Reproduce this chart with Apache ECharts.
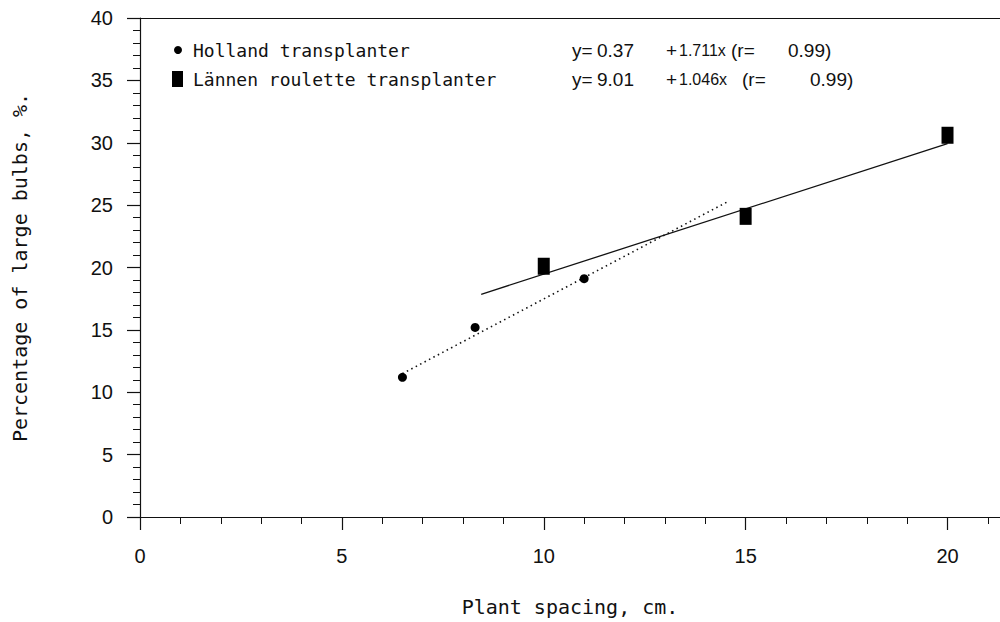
<!DOCTYPE html>
<html><head><meta charset="utf-8">
<script src="https://cdn.jsdelivr.net/npm/echarts@6/dist/echarts.min.js"></script>
<style>html,body{margin:0;padding:0;background:#fff}#c{width:1000px;height:622px}</style>
</head><body><div id="c"></div>
<script>
// ---- data ----
const hollandX = [6.5, 8.3, 11];
const hollandY = [11.2, 15.2, 19.1];
const lannenX = [10, 15, 20];
const lannenY = [20.1, 24.1, 30.6];
const hollandFit = [0.37, 1.711];      // intercept, slope
const hollandFitRange = [6.5, 14.6];
const lannenFit = [9.01, 1.046];
const lannenFitRange = [8.45, 20];
const xMajorTicks = [0, 5, 10, 15, 20];
const xMinorTicks = [1,2,3,4,6,7,8,9,11,12,13,14,16,17,18,19,21];
const seriesNames = ['Holland transplanter', 'Lännen roulette transplanter'];
const eqRow1 = ['y=', '0.37', '+', '1.711x', '(r=', '0.99)'];
const eqRow2 = ['y=', '9.01', '+', '1.046x', '(r=', '0.99)'];
const xTitle = 'Plant spacing, cm.';
const yTitle = 'Percentage of large bulbs, %.';

const pts = (xs, ys) => xs.map((x, i) => [x, ys[i]]);
const fitLine = (c, r) => r.map(x => [x, +(c[0] + c[1] * x).toFixed(3)]);

const mono = 'DejaVu Sans Mono';
const sans = 'Liberation Sans';
const ink = '#111';

function txt(s, x, y, family, size) {
  return {type: 'text', x: x, y: y, style: {text: s, fontFamily: family, fontSize: size, fill: ink, verticalAlign: 'middle', align: 'left'}};
}
// equation segment layout (start x of each segment) and size
const eqX1 = [572, 597, 666, 679, 731, 788];
const eqX2 = [572, 597, 666, 679, 742, 810];
const eqSize = [19, 19, 19, 16, 19, 19];

const chart = echarts.init(document.getElementById('c'), null, {renderer: 'svg'});
const xBase = {type: 'value', min: 0, max: 21.3, gridIndex: 0};
const graphics = [
  {type: 'circle', shape: {cx: 178, cy: 50, r: 4}, style: {fill: '#000'}},
  txt(seriesNames[0], 193, 50, mono, 18),
  {type: 'rect', shape: {x: 172, y: 71, width: 11, height: 16}, style: {fill: '#000'}},
  txt(seriesNames[1], 193, 79, mono, 18)
];
eqRow1.forEach((s, i) => graphics.push(txt(s, eqX1[i], 50, sans, eqSize[i])));
eqRow2.forEach((s, i) => graphics.push(txt(s, eqX2[i], 79, sans, eqSize[i])));

chart.setOption({
  animation: false,
  backgroundColor: '#fff',
  grid: {left: 140, right: 0, top: 18, bottom: 105},
  xAxis: [
    Object.assign({}, xBase, {
      position: 'bottom',
      axisLine: {show: true, lineStyle: {color: ink, width: 1.2}},
      axisTick: {show: true, length: 13, customValues: xMajorTicks, lineStyle: {color: ink, width: 1.2}},
      axisLabel: {show: true, customValues: xMajorTicks, margin: 29, fontSize: 20, fontFamily: sans, color: ink},
      splitLine: {show: false},
      name: xTitle, nameLocation: 'middle', nameGap: 80,
      nameTextStyle: {fontFamily: mono, fontSize: 20, color: ink}
    }),
    Object.assign({}, xBase, {
      position: 'bottom',
      axisLine: {show: false},
      axisTick: {show: true, length: 7, customValues: xMinorTicks, lineStyle: {color: ink, width: 1}},
      axisLabel: {show: false},
      splitLine: {show: false}
    }),
    Object.assign({}, xBase, {
      position: 'top',
      axisLine: {show: true, lineStyle: {color: ink, width: 1.2}},
      axisTick: {show: false},
      axisLabel: {show: false},
      splitLine: {show: false}
    })
  ],
  yAxis: {
    type: 'value', min: 0, max: 40, interval: 5,
    axisLine: {show: true, lineStyle: {color: ink, width: 1.2}},
    axisTick: {show: true, length: 13, lineStyle: {color: ink, width: 1.2}},
    minorTick: {show: true, splitNumber: 5, length: 7, lineStyle: {color: ink, width: 1}},
    axisLabel: {margin: 27, fontSize: 20, fontFamily: sans, color: ink},
    splitLine: {show: false},
    name: yTitle, nameLocation: 'middle', nameGap: 110, nameRotate: 90,
    nameTextStyle: {fontFamily: mono, fontSize: 20, color: ink}
  },
  series: [
    {
      name: seriesNames[0] + ' fit', type: 'line', data: fitLine(hollandFit, hollandFitRange),
      symbol: 'none', lineStyle: {color: ink, width: 1.6, type: [1.5, 3.5]}, z: 1
    },
    {
      name: seriesNames[1] + ' fit', type: 'line', data: fitLine(lannenFit, lannenFitRange),
      symbol: 'none', lineStyle: {color: ink, width: 1.3}, z: 1
    },
    {
      name: seriesNames[0], type: 'scatter', data: pts(hollandX, hollandY),
      symbol: 'circle', symbolSize: 9, itemStyle: {color: '#000', opacity: 1}, z: 3
    },
    {
      name: seriesNames[1], type: 'scatter', data: pts(lannenX, lannenY),
      symbol: 'rect', symbolSize: [12, 17], itemStyle: {color: '#000', opacity: 1}, z: 3
    }
  ],
  graphic: graphics
});
</script></body></html>
